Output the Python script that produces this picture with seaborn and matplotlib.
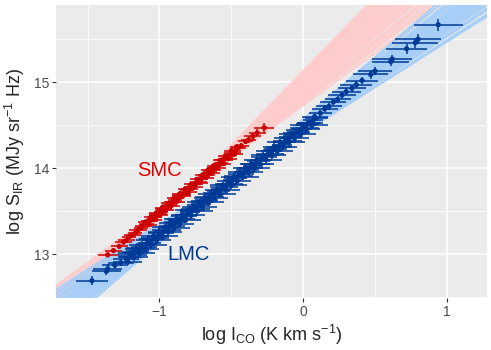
import numpy as np
import pandas as pd
import matplotlib
matplotlib.use("Agg")
import matplotlib.pyplot as plt
import seaborn as sns

# ---- LMC clouds: log I_CO, log S_IR and their errors
lmc_x = [0.94, 0.80, 0.78, 0.72, 0.62, 0.61, 0.50, 0.47, 0.41, 0.37,
         0.34, 0.30, 0.27, 0.24, 0.21, 0.18, 0.15, 0.12,
         0.09, 0.07, 0.05, 0.03, 0.01, -0.01, -0.03, -0.05, -0.07, -0.09,
         -0.11, -0.13, -0.15, -0.17, -0.19, -0.21, -0.23, -0.25, -0.27, -0.29,
         -0.31, -0.33, -0.35, -0.37, -0.39, -0.41, -0.43, -0.45, -0.47, -0.49,
         -0.51, -0.53, -0.55, -0.57, -0.59, -0.61, -0.63, -0.65, -0.67, -0.69,
         -0.71, -0.73, -0.75, -0.77, -0.79, -0.81, -0.83, -0.85, -0.87, -0.89,
         -0.91, -0.93, -0.95, -0.97, -0.99, -1.01, -1.03, -1.05, -1.07, -1.09,
         -1.11, -1.13, -1.15, -1.17, -1.19, -1.21, -1.23,
         -1.27, -1.31, -1.36, -1.37, -1.47]
lmc_y = [15.67, 15.50, 15.46, 15.39, 15.27, 15.24, 15.13, 15.09, 15.02, 14.97,
         14.93, 14.89, 14.85, 14.80, 14.77, 14.72, 14.69, 14.64,
         14.58, 14.56, 14.53, 14.51, 14.47, 14.46, 14.42, 14.41, 14.37, 14.36,
         14.31, 14.30, 14.27, 14.25, 14.22, 14.21, 14.17, 14.15, 14.13, 14.10,
         14.08, 14.05, 14.03, 14.00, 13.98, 13.95, 13.93, 13.91, 13.88, 13.86,
         13.82, 13.81, 13.78, 13.76, 13.73, 13.71, 13.68, 13.66, 13.63, 13.62,
         13.58, 13.57, 13.53, 13.51, 13.49, 13.46, 13.44, 13.41, 13.39, 13.37,
         13.33, 13.32, 13.28, 13.27, 13.24, 13.21, 13.19, 13.17, 13.13, 13.12,
         13.08, 13.07, 13.03, 13.02, 12.99, 12.97, 12.94,
         12.90, 12.87, 12.83, 12.80, 12.69]
lmc_xerr = [0.17, 0.16, 0.16, 0.14, 0.14, 0.13, 0.12, 0.12, 0.11, 0.11,
            0.10, 0.10, 0.10, 0.09, 0.09, 0.09, 0.09, 0.08,
            0.08, 0.07, 0.09, 0.08, 0.10, 0.07, 0.08, 0.09, 0.07, 0.08,
            0.10, 0.08, 0.07, 0.09, 0.08, 0.07, 0.10, 0.08, 0.09, 0.07,
            0.08, 0.10, 0.07, 0.09, 0.08, 0.07, 0.09, 0.10, 0.08, 0.07,
            0.09, 0.08, 0.10, 0.07, 0.08, 0.09, 0.07, 0.10, 0.08, 0.09,
            0.07, 0.08, 0.10, 0.09, 0.07, 0.08, 0.09, 0.10, 0.07, 0.08,
            0.09, 0.08, 0.10, 0.07, 0.09, 0.08, 0.10, 0.09, 0.08, 0.07,
            0.09, 0.10, 0.08, 0.09, 0.10, 0.08, 0.09,
            0.09, 0.09, 0.10, 0.10, 0.11]
lmc_yerr = [0.07, 0.06, 0.06, 0.06, 0.05, 0.05, 0.05, 0.05, 0.04, 0.04,
            0.04, 0.04, 0.04, 0.04, 0.04, 0.04, 0.04, 0.04,
            0.03, 0.04, 0.03, 0.04, 0.03, 0.04, 0.03, 0.04, 0.03, 0.04,
            0.03, 0.04, 0.03, 0.04, 0.03, 0.04, 0.03, 0.04, 0.03, 0.04,
            0.03, 0.04, 0.03, 0.04, 0.03, 0.04, 0.03, 0.04, 0.03, 0.04,
            0.03, 0.04, 0.03, 0.04, 0.03, 0.04, 0.03, 0.04, 0.03, 0.04,
            0.03, 0.04, 0.03, 0.04, 0.03, 0.04, 0.03, 0.04, 0.03, 0.04,
            0.03, 0.04, 0.03, 0.04, 0.03, 0.04, 0.03, 0.04, 0.03, 0.04,
            0.03, 0.04, 0.03, 0.04, 0.03, 0.04, 0.04,
            0.04, 0.04, 0.05, 0.04, 0.05]

# second batch of LMC clouds filling the dense part of the relation
lmc2_x = [0.08, 0.06, 0.04, 0.02, 0.00, -0.02, -0.04, -0.06, -0.08, -0.10, -0.12,
          -0.14, -0.16, -0.18, -0.20, -0.22, -0.24, -0.26, -0.28, -0.30, -0.32, -0.34,
          -0.36, -0.38, -0.40, -0.42, -0.44, -0.46, -0.48, -0.50, -0.52, -0.54, -0.56,
          -0.58, -0.60, -0.62, -0.64, -0.66, -0.68, -0.70, -0.72, -0.74, -0.76, -0.78,
          -0.80, -0.82, -0.84, -0.86, -0.88, -0.90, -0.92, -0.94, -0.96, -0.98, -1.00,
          -1.02, -1.04, -1.06, -1.08, -1.10, -1.12, -1.14, -1.16, -1.18, -1.20, -1.22]
lmc2_y = [14.60, 14.50, 14.53, 14.45, 14.50, 14.40, 14.44, 14.35, 14.40, 14.30, 14.35,
          14.25, 14.30, 14.20, 14.25, 14.15, 14.20, 14.10, 14.15, 14.05, 14.10, 14.00,
          14.05, 13.95, 14.00, 13.90, 13.95, 13.85, 13.90, 13.80, 13.85, 13.75, 13.80,
          13.70, 13.75, 13.65, 13.70, 13.60, 13.65, 13.55, 13.60, 13.50, 13.55, 13.45,
          13.51, 13.40, 13.46, 13.35, 13.41, 13.30, 13.36, 13.26, 13.31, 13.21, 13.26,
          13.16, 13.21, 13.11, 13.16, 13.06, 13.11, 13.01, 13.06, 12.96, 13.01, 12.91]
lmc2_xerr = [0.09, 0.11, 0.08, 0.10, 0.09, 0.11, 0.08, 0.10, 0.09, 0.11, 0.08,
             0.10, 0.09, 0.11, 0.08, 0.10, 0.09, 0.11, 0.08, 0.10, 0.09, 0.11,
             0.08, 0.10, 0.09, 0.11, 0.08, 0.10, 0.09, 0.11, 0.08, 0.10, 0.09,
             0.11, 0.08, 0.10, 0.09, 0.11, 0.08, 0.10, 0.09, 0.11, 0.08, 0.10,
             0.09, 0.11, 0.08, 0.10, 0.09, 0.11, 0.08, 0.10, 0.09, 0.11, 0.08,
             0.10, 0.09, 0.11, 0.08, 0.10, 0.09, 0.11, 0.08, 0.10, 0.09, 0.10]
lmc2_yerr = 0.04

# ---- SMC clouds
smc_x = [-0.27, -0.32, -0.35, -0.38, -0.40, -0.43,
         -0.45, -0.47, -0.49, -0.51, -0.53, -0.55, -0.57, -0.59, -0.61, -0.63,
         -0.65, -0.67, -0.69, -0.71, -0.73, -0.75, -0.77, -0.79, -0.81, -0.83,
         -0.85, -0.87, -0.89, -0.91, -0.93, -0.95, -0.97, -0.99, -1.01, -1.03,
         -1.05, -1.07, -1.09, -1.11, -1.13, -1.15, -1.17, -1.19, -1.21, -1.23,
         -1.25,
         -1.28, -1.32, -1.36]
smc_y = [14.47, 14.41, 14.37, 14.33, 14.31, 14.26,
         14.24, 14.20, 14.18, 14.15, 14.12, 14.10, 14.06, 14.04, 14.01, 13.98,
         13.96, 13.92, 13.90, 13.87, 13.84, 13.82, 13.79, 13.76, 13.74, 13.70,
         13.69, 13.65, 13.63, 13.60, 13.57, 13.55, 13.52, 13.49, 13.47, 13.43,
         13.41, 13.39, 13.35, 13.33, 13.30, 13.28, 13.24, 13.22, 13.20, 13.16,
         13.14,
         13.09, 13.04, 12.99]
smc_xerr = [0.07, 0.06, 0.06, 0.05, 0.05, 0.05,
            0.05, 0.04, 0.06, 0.05, 0.04, 0.06, 0.05, 0.05, 0.04, 0.06,
            0.05, 0.06, 0.04, 0.05, 0.06, 0.05, 0.04, 0.06, 0.05, 0.05,
            0.06, 0.04, 0.05, 0.06, 0.05, 0.04, 0.06, 0.05, 0.06, 0.05,
            0.04, 0.06, 0.05, 0.06, 0.05, 0.06, 0.05, 0.06, 0.05, 0.06,
            0.06,
            0.06, 0.06, 0.07]
smc_yerr = [0.05, 0.04, 0.04, 0.04, 0.03, 0.03,
            0.03, 0.03, 0.03, 0.03, 0.03, 0.03, 0.03, 0.03, 0.03, 0.03,
            0.03, 0.03, 0.03, 0.03, 0.03, 0.03, 0.03, 0.03, 0.03, 0.03,
            0.03, 0.03, 0.03, 0.03, 0.03, 0.03, 0.03, 0.03, 0.03, 0.03,
            0.03, 0.03, 0.03, 0.03, 0.03, 0.03, 0.03, 0.03, 0.03, 0.03,
            0.03,
            0.03, 0.03, 0.03]

smc2_x = [-0.46, -0.48, -0.50, -0.52, -0.54, -0.56, -0.58, -0.60, -0.62, -0.64, -0.66,
          -0.68, -0.70, -0.72, -0.74, -0.76, -0.78, -0.80, -0.82, -0.84, -0.86, -0.88,
          -0.90, -0.92, -0.94, -0.96, -0.98, -1.00, -1.02, -1.04, -1.06, -1.08, -1.10]
smc2_y = [14.25, 14.16, 14.20, 14.11, 14.14, 14.05, 14.09, 14.00, 14.03, 13.94, 13.98,
          13.89, 13.92, 13.83, 13.87, 13.78, 13.81, 13.72, 13.76, 13.67, 13.70, 13.61,
          13.65, 13.56, 13.59, 13.51, 13.54, 13.45, 13.48, 13.40, 13.43, 13.34, 13.37]
smc2_xerr = [0.05, 0.06, 0.05, 0.06, 0.05, 0.06, 0.05, 0.06, 0.05, 0.06, 0.05,
             0.06, 0.05, 0.06, 0.05, 0.06, 0.05, 0.06, 0.05, 0.06, 0.05, 0.06,
             0.05, 0.06, 0.05, 0.06, 0.05, 0.06, 0.05, 0.06, 0.05, 0.06, 0.05]
smc2_yerr = 0.03

# ---- posterior regression draws (intercept at log I_CO = 0, slope)
smc_icpt = [14.73, 14.76, 14.77, 14.79, 14.81, 14.82, 14.85, 14.85, 14.87, 14.88,
            14.90, 14.92, 14.93, 14.95, 14.96, 14.98, 15.00, 15.01, 15.03, 15.04,
            15.06, 15.08, 15.09, 15.11, 15.13]
smc_slope = [1.22, 1.25, 1.28, 1.30, 1.32, 1.34, 1.36, 1.38, 1.40, 1.42,
             1.44, 1.46, 1.48, 1.50, 1.52, 1.54, 1.56, 1.58, 1.60, 1.62,
             1.64, 1.66, 1.68, 1.70, 1.72]
lmc_icpt = [14.41, 14.41, 14.43, 14.43, 14.44, 14.45, 14.45, 14.46, 14.46, 14.47,
            14.47, 14.48, 14.48, 14.48, 14.49, 14.49, 14.50, 14.50, 14.51, 14.51,
            14.52, 14.53, 14.53, 14.54, 14.56, 14.57]
lmc_slope = [1.06, 1.08, 1.10, 1.12, 1.14, 1.15, 1.17, 1.18, 1.19, 1.20,
             1.21, 1.22, 1.23, 1.24, 1.25, 1.26, 1.27, 1.28, 1.29, 1.30,
             1.32, 1.34, 1.36, 1.38, 1.41, 1.44]

colors = {"SMC": "#CC0000", "LMC": "#003A96"}
fan = {"SMC": "#FFCCCC", "LMC": "#A6CEF7"}

df = pd.concat([
    pd.DataFrame({"log_ico": lmc_x, "log_sir": lmc_y, "xerr": lmc_xerr,
                  "yerr": lmc_yerr, "galaxy": "LMC"}),
    pd.DataFrame({"log_ico": lmc2_x, "log_sir": lmc2_y, "xerr": lmc2_xerr,
                  "yerr": lmc2_yerr, "galaxy": "LMC"}),
    pd.DataFrame({"log_ico": smc_x, "log_sir": smc_y, "xerr": smc_xerr,
                  "yerr": smc_yerr, "galaxy": "SMC"}),
    pd.DataFrame({"log_ico": smc2_x, "log_sir": smc2_y, "xerr": smc2_xerr,
                  "yerr": smc2_yerr, "galaxy": "SMC"}),
], ignore_index=True)

sns.set_theme(style="darkgrid", rc={"axes.facecolor": "#EBEBEB",
                                    "grid.color": "white"})
plt.rcParams["font.family"] = ["Liberation Sans", "DejaVu Sans"]
plt.rcParams["mathtext.fontset"] = "custom"
plt.rcParams["mathtext.rm"] = "Liberation Sans"
plt.rcParams["mathtext.default"] = "regular"

fig = plt.figure(figsize=(4.91, 3.5), dpi=100)
ax = fig.add_axes([0.114, 0.149, 0.878, 0.837])

for a, b in zip(smc_icpt, smc_slope):
    ax.axline((0, a), slope=b, color=fan["SMC"], lw=1.4, zorder=1)
for a, b in zip(lmc_icpt, lmc_slope):
    ax.axline((0, a), slope=b, color=fan["LMC"], lw=1.4, zorder=1.5)

for gal, sub in df.groupby("galaxy"):
    ax.errorbar(sub["log_ico"], sub["log_sir"], xerr=sub["xerr"],
                yerr=sub["yerr"], fmt="none", ecolor=colors[gal],
                elinewidth=1.1, capsize=0, zorder=3)

sns.scatterplot(data=df, x="log_ico", y="log_sir", hue="galaxy",
                palette=colors, s=14, linewidth=0, legend=False,
                zorder=4, ax=ax)

ax.text(-1.0, 13.97, "SMC", color="#E60000", fontsize=14.5,
        ha="center", va="center")
ax.text(-0.80, 12.99, "LMC", color="#003A96", fontsize=14.5,
        ha="center", va="center")

ax.set_xlim(-1.72, 1.28)
ax.set_ylim(12.49, 15.90)
ax.set_xticks([-1, 0, 1])
ax.set_xticklabels(["\u22121", "0", "1"])
ax.set_yticks([13, 14, 15])
ax.set_xticks([-1.5, -0.5, 0.5], minor=True)
ax.set_yticks([12.5, 13.5, 14.5, 15.5], minor=True)
ax.grid(which="major", color="white", lw=1.1)
ax.grid(which="minor", color="white", lw=0.55)
ax.tick_params(which="major", length=3, width=0.8, color="#333333",
               labelsize=10, labelcolor="#4D4D4D", pad=2, bottom=True, left=True)
ax.tick_params(which="minor", length=0)
for s in ax.spines.values():
    s.set_visible(False)

ax.set_xlabel(r"log I$_{CO}$ (K km s$^{-1}$)", fontsize=13, labelpad=3)
ax.set_ylabel(r"log S$_{IR}$ (MJy sr$^{-1}$ Hz)", fontsize=13, labelpad=5)

fig.savefig("out.png", dpi=100)
